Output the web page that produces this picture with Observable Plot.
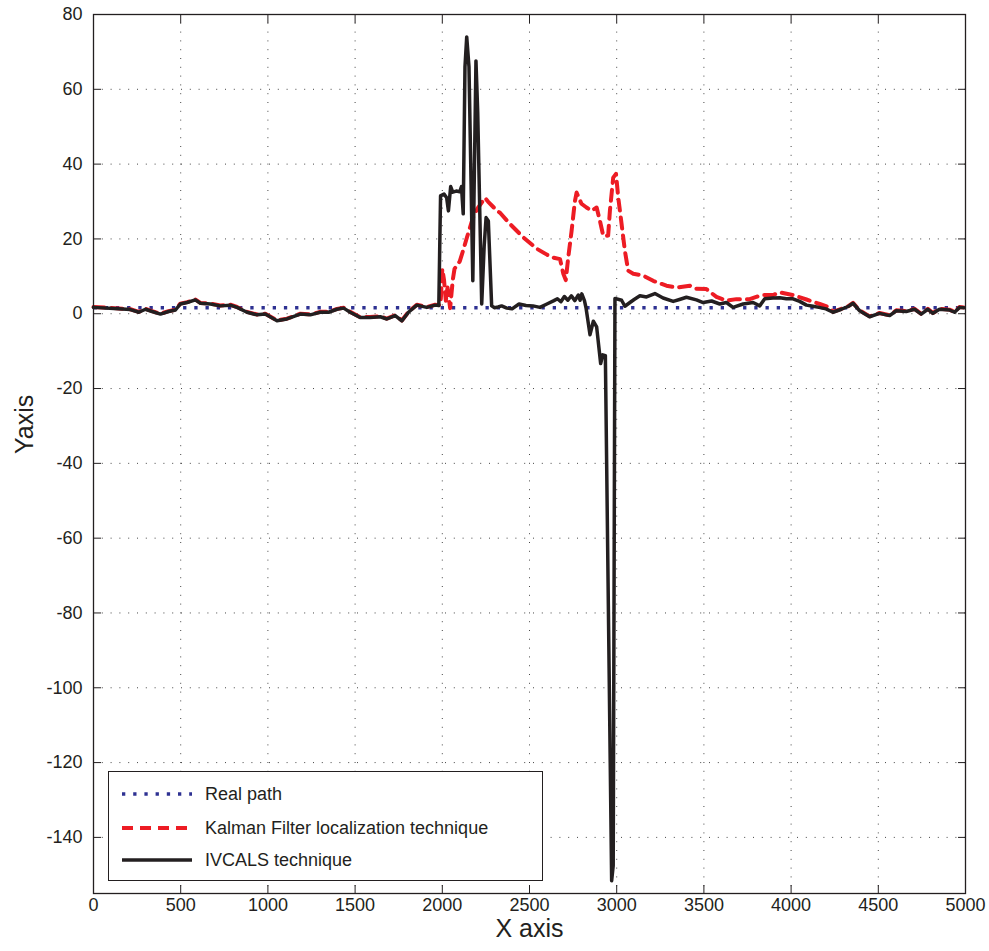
<!DOCTYPE html>
<html>
<head>
<meta charset="utf-8">
<script src="https://cdn.jsdelivr.net/npm/d3@7"></script>
<script src="https://cdn.jsdelivr.net/npm/@observablehq/plot@0.6"></script>
<style>
  body { margin: 0; background: #fff; }
  #wrap { position: relative; width: 989px; height: 951px; font-family: 'Liberation Sans', Arial, sans-serif; }
  #legend { position: absolute; left: 108px; top: 771px; width: 433px; height: 108px; border: 1.3px solid #231f20; background: #fff; }
  .row { position: absolute; left: 0; height: 30px; display: flex; align-items: center; font-size: 18px; color: #231f20; }
  .row svg { margin-left: 13px; margin-right: 13px; }
</style>
</head>
<body>
<div id="wrap"></div>
<script>
// ---- tick labels ----
const xTicks = [0, 500, 1000, 1500, 2000, 2500, 3000, 3500, 4000, 4500, 5000];
const yTicks = [-140, -120, -100, -80, -60, -40, -20, 0, 20, 40, 60, 80];

// ---- series: Real path ----
const realX = [0, 5000];
const realY = [1.6, 1.6];

// ---- series: IVCALS technique ----
const ivcalsX = [0,117,212,260,298,336,384,431,470,498,537,584,613,670,727,785,823,880,938,985,
  1052,1109,1186,1243,1300,1348,1396,1434,1472,1529,1586,1644,1682,1730,1768,1806,1854,1911,1959,1980,
  1990,2010,2025,2035,2048,2060,2080,2100,2110,2120,2130,2140,2153,2175,2193,2203,2226,2240,2251,2264,
  2283,2300,2320,2340,2370,2400,2440,2480,2520,2560,2600,2640,2660,2680,2700,2720,2740,2760,2780,2790,
  2800,2815,2824,2847,2866,2885,2908,2920,2935,2971,2980,2990,
  3028,3047,3076,3100,3133,3171,3219,3266,3324,3360,3400,3457,3496,3544,3591,3629,3667,3725,3782,3820,
  3849,3896,3935,3973,4011,4049,4088,4126,4160,4200,4240,4288,4330,4355,4393,4450,4507,4565,4603,4660,
  4708,4746,4784,4813,4851,4908,4937,4966,4990];
const ivcalsY = [1.7,1.4,1.1,0.4,1.2,0.6,-0.1,0.6,1.0,2.6,3.0,3.7,2.8,2.6,2.1,2.3,1.7,0.4,-0.3,-0.1,
  -1.9,-1.4,-0.1,-0.3,0.4,0.4,1.2,1.5,0.4,-1.0,-1.0,-0.8,-1.4,-0.5,-1.9,0.4,2.3,1.7,2.3,2.2,
  31.5,32,31,27.5,34,32.5,32.8,32.6,34,26.7,66,74,66,8.8,67.6,54,2.6,18,25.7,24.8,
  2.1,1.6,1.8,2.1,1.5,1.3,2.6,2.2,2.1,1.7,2.6,3.5,4.0,3.2,4.6,3.6,4.8,3.5,5.0,3.6,
  5.3,3.5,1.6,-5.6,-2,-3.5,-13.3,-11,-11.2,-151.6,-147.5,4.1,
  3.6,2.0,3.0,3.8,4.8,4.5,5.4,4.2,3.3,3.8,4.4,3.7,3.0,3.4,2.6,3.0,1.7,2.6,3.0,2.1,
  4.0,4.2,4.3,4.0,4.0,3.3,2.3,2.0,1.7,1.3,0.4,1.2,2.0,2.8,0.8,-0.8,0.1,-0.5,0.8,0.6,
  1.2,-0.1,1.2,0.1,1.2,1.0,0.4,1.7,1.6];

// ---- series: Kalman Filter localization technique ----
const kalmanX = [0,117,212,260,298,336,384,431,470,498,537,584,613,670,727,785,823,880,938,985,
  1052,1109,1186,1243,1300,1348,1396,1434,1472,1529,1586,1644,1682,1730,1768,1806,1854,1911,1959,1980,
  1990,2000,2010,2020,2030,2045,2060,2070,2100,2120,2142,2176,2200,2245,2262,2314,2331,2388,2465,2541,
  2600,2637,2675,2694,2708,2722,2741,2760,2770,2798,2827,2856,2885,2904,2923,2951,2961,2980,2996,3009,
  3028,3047,3066,3095,3152,3209,3285,3343,3419,3457,3514,3572,3629,3687,3763,3800,3839,3896,3935,4011,
  4088,4164,4221,
  4240,4288,4330,4355,4393,4450,4507,4565,4603,4660,4708,4746,4784,4813,4851,4908,4937,4966,4990];
const kalmanY = [1.8,1.5,1.2,0.5,1.3,0.7,0.0,0.7,1.1,2.7,3.1,3.8,2.9,2.7,2.2,2.4,1.8,0.5,-0.2,0.0,
  -1.8,-1.3,0.0,-0.2,0.5,0.5,1.3,1.6,0.5,-0.9,-0.9,-0.7,-1.3,-0.4,-1.8,0.5,2.4,1.8,2.4,2.3,
  2.5,12,9,3.5,7,1.5,9,12,14,17,20.5,25.7,28,31,30,27.5,27,24,20.4,17.4,
  15.8,15,14.6,10.7,9,15,22,30,32.4,29.4,28.4,27.5,28.4,24.8,20.8,20.9,27.5,36.4,37.4,31,
  24,16.8,11.5,10.7,10.2,8.8,7.5,7,7.5,6.7,6.6,4.5,3.5,3.9,3.9,4.5,5,5,5.7,5.0,
  3.8,2.6,1.7,
  0.5,1.3,2.1,2.9,0.9,-0.7,0.2,-0.4,0.9,0.7,1.3,0.0,1.3,0.2,1.3,1.1,0.5,1.8,1.7];

// ---- legend ----
const legendLabels = ["Real path", "Kalman Filter localization technique", "IVCALS technique"];
const legendColors = ["#2e3192", "#ed1c24", "#231f20"];
const legendDash = ["3.3,7.9", "11,7", null];
const legendWidth = [3.3, 4, 3.5];

const real = realX.map((x, i) => ({x, y: realY[i]}));
const kalman = kalmanX.map((x, i) => ({x, y: kalmanY[i]}));
const ivcals = ivcalsX.map((x, i) => ({x, y: ivcalsY[i]}));

const gridStyle = {stroke: "#333", strokeOpacity: 0.9, strokeWidth: 1, strokeDasharray: "1,7.8"};
const plain = d => String(d);

const chart = Plot.plot({
  width: 989,
  height: 951,
  marginLeft: 93,
  marginRight: 24,
  marginTop: 14,
  marginBottom: 58,
  x: {domain: [0, 5000]},
  y: {domain: [-155, 80]},
  style: {fontFamily: "'Liberation Sans', Arial, sans-serif", fontSize: "18px", color: "#231f20", background: "white", overflow: "visible"},
  marks: [
    Plot.ruleX(xTicks, gridStyle),
    Plot.ruleY(yTicks, gridStyle),
    Plot.line(real, {x: "x", y: "y", stroke: legendColors[0], strokeWidth: legendWidth[0], strokeDasharray: legendDash[0], strokeLinecap: "butt"}),
    Plot.line(kalman, {x: "x", y: "y", stroke: legendColors[1], strokeWidth: legendWidth[1], strokeDasharray: legendDash[1], strokeLinejoin: "round"}),
    Plot.line(ivcals, {x: "x", y: "y", stroke: legendColors[2], strokeWidth: legendWidth[2], strokeLinejoin: "round"}),
    Plot.axisX({ticks: xTicks, tickFormat: plain, anchor: "bottom", tickSize: 0, tickPadding: 5, label: null}),
    Plot.axisX({ticks: xTicks, anchor: "bottom", tickSize: -8, fill: "none", label: null}),
    Plot.axisX({ticks: xTicks, anchor: "top", tickSize: -8, fill: "none", label: null}),
    Plot.axisY({ticks: yTicks, tickFormat: plain, anchor: "left", tickSize: 0, tickPadding: 11, label: null}),
    Plot.axisY({ticks: yTicks, anchor: "left", tickSize: -8, fill: "none", label: null}),
    Plot.axisY({ticks: yTicks, anchor: "right", tickSize: -8, fill: "none", label: null}),
    Plot.frame({stroke: "#231f20", strokeWidth: 1.3}),
    Plot.text(["X axis"], {frameAnchor: "bottom", dy: 43, fontSize: 25, fill: "#231f20"}),
    Plot.text(["Yaxis"], {frameAnchor: "left", dx: -69, rotate: -90, fontSize: 25, fill: "#231f20"})
  ]
});

const wrap = document.getElementById("wrap");
wrap.appendChild(chart);

const legend = d3.select(wrap).append("div").attr("id", "legend");
const rowTops = [7, 41, 73];
legendLabels.forEach((label, i) => {
  const row = legend.append("div").attr("class", "row").style("top", rowTops[i] + "px");
  const svg = row.append("svg").attr("width", 70).attr("height", 10);
  svg.append("line").attr("x1", 0).attr("x2", 70).attr("y1", 5).attr("y2", 5)
    .attr("stroke", legendColors[i]).attr("stroke-width", legendWidth[i])
    .attr("stroke-dasharray", legendDash[i]);
  row.append("span").text(label);
});
</script>
</body>
</html>
